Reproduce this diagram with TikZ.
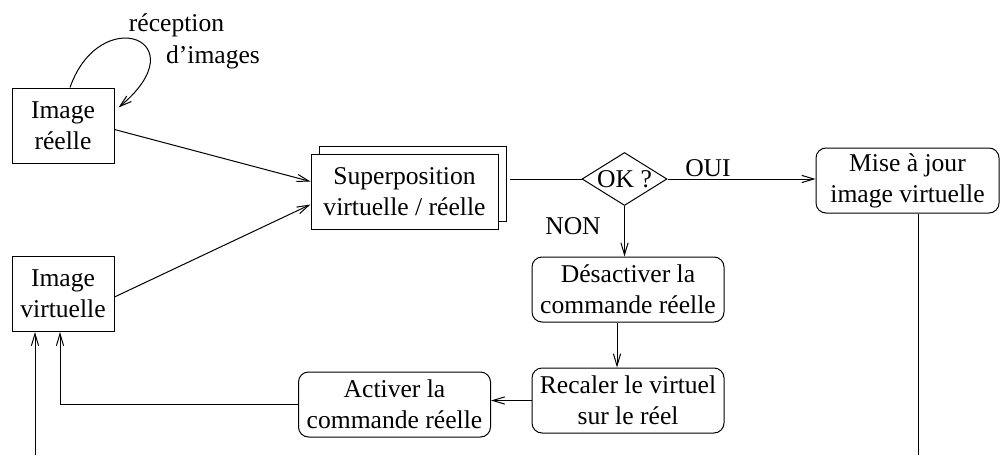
\documentclass[tikz,border=0pt]{standalone}
\usepackage{fontspec}
\setmainfont{Liberation Serif}
\usepackage{tikz}
\usetikzlibrary{shapes, arrows.meta, positioning, shadows}

\begin{document}
\begin{tikzpicture}[
    x=0.5pt, y=-0.5pt,
    line width=0.5pt,
    font=\fontsize{12.8}{15.5}\selectfont,
    arr/.style={-{Straight Barb[length=6pt,width=3.6pt]}},
    imgbox/.style={rectangle, draw, align=center, inner sep=2pt,
                   minimum width=51pt, minimum height=37.5pt},
    stepbox/.style={rectangle, draw, rounded corners=5pt, align=center,
                    inner sep=2pt, minimum width=96pt, minimum height=32.5pt},
    testbox/.style={diamond, draw, aspect=1.6, inner sep=0pt,
                    minimum width=42.5pt, minimum height=26.5pt}
  ]
    \useasboundingbox (0,0) rectangle (1000,455);

    % sources
    \node[imgbox] (real) at (63,125.5) {Image\\réelle};
    \node[imgbox] (virt) at (63,294) {Image\\virtuelle};
    \node (recA) at (176.5,25) {réception};
    \node (recB) at (213,57) {d’images};

    % superposition and test
    \node[rectangle, draw, fill=white, align=center, minimum width=93.5pt,
          minimum height=37.5pt, inner sep=2pt,
          copy shadow={shadow xshift=4pt, shadow yshift=4pt}] (sup) at (404.5,191.5)
          {Superposition\\virtuelle / réelle};
    \node[testbox] (ok) at (624.5,179) {OK ?};
    \node (oui) at (708,168) {OUI};
    \node (non) at (573,226) {NON};

    % actions
    \node[stepbox, minimum width=91.5pt] (mise) at (907.5,180.5) {Mise à jour\\image virtuelle};
    \node[stepbox] (desac) at (628,289.5) {Désactiver la\\commande réelle};
    \node[stepbox] (recal) at (628,400.5) {Recaler le virtuel\\sur le réel};
    \node[stepbox] (activ) at (394.5,404.5) {Activer la\\commande réelle};

    \coordinate (loopin) at (35,455);
    \coordinate (loopout) at (918,455);

    % connectors
    \draw[arr] ([xshift=3.5pt]real.north) .. controls (100,2) and (200,40) .. ([xshift=2pt,yshift=9pt]real.east);
    \draw[arr] ([yshift=-2pt]real.east) -- ([yshift=5pt]sup.west);
    \draw[arr] ([yshift=-1.5pt]virt.east) -- ([yshift=-6.5pt]sup.west);
    \draw ([xshift=5.5pt]sup.east |- ok.west) -- (ok.west);
    \draw[arr] (ok.east) -- (ok.east -| mise.west);
    \draw[arr] (ok.south) -- (ok.south |- desac.north);
    \draw[arr] ([xshift=-5.5pt]desac.south) -- ([xshift=-5.5pt]recal.north);
    \draw[arr] (recal.west) -- (recal.west -| activ.east);
    \draw[arr] (activ.west) -| ([xshift=-1.5pt]virt.south);
    \draw[arr] (loopin) -- (loopin |- virt.south);
    \draw (mise.south -| loopout) -- (loopout);
  \end{tikzpicture}
\end{document}
